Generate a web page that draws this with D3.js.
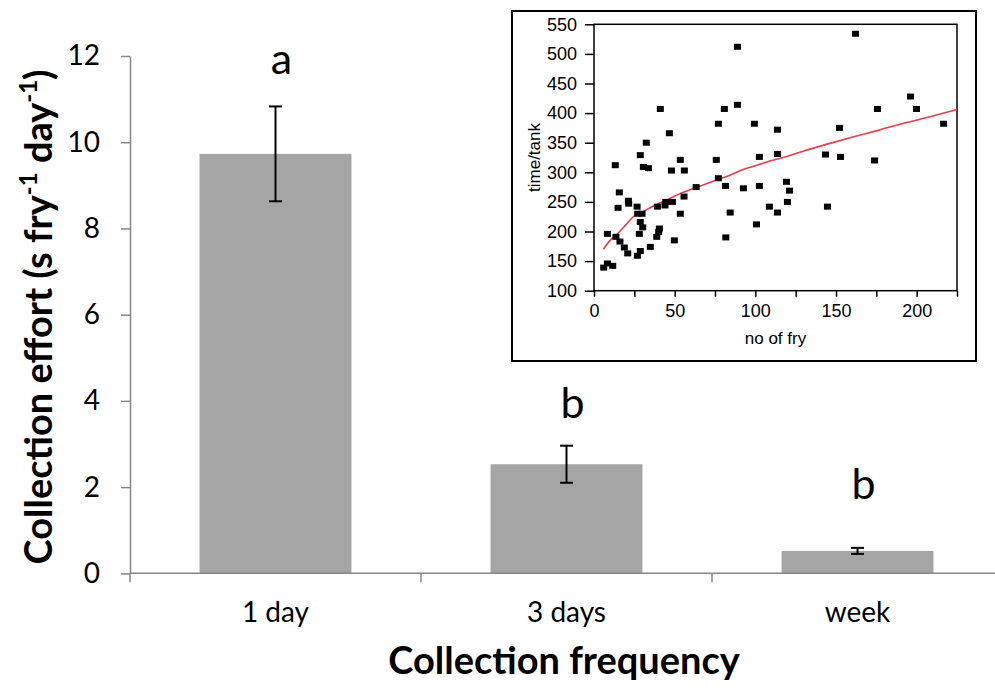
<!DOCTYPE html>
<html>
<head>
<meta charset="utf-8">
<script src="https://cdnjs.cloudflare.com/ajax/libs/d3/7.8.5/d3.min.js"></script>
<style>
  body { margin: 0; background: #fff; }
  svg { display: block; }
</style>
</head>
<body>
<svg id="chart" width="995" height="693"></svg>
<script>
// main bar chart
var categories = ["1 day", "3 days", "week"];
var effort = [9.73, 2.53, 0.52];
var effortErr = [1.1, 0.43, 0.07];
var letters = ["a", "b", "b"];
var letterLevel = [11.58, 3.6, 1.72];
var yTicks = [0, 2, 4, 6, 8, 10, 12];

// inset scatter: no of fry vs time/tank
var fryNo = [6.0, 8.3, 11.6, 8.3, 13.6, 16.1, 18.8, 20.9, 13.2, 15.7, 14.9, 21.3, 21.5, 26.7, 27.1,
  29.8, 28.7, 30.2, 28.1, 28.7, 26.9, 34.9, 28.7, 30.6, 33.7, 32.4, 41.1, 46.7, 48.0, 53.5, 56.0,
  38.9, 40.1, 40.5, 39.3, 44.0, 44.5, 48.6, 49.8, 53.5, 55.8, 63.3, 77.1, 75.8, 77.1, 80.8, 88.9,
  88.9, 81.7, 81.5, 84.4, 92.6, 99.4, 102.5, 102.5, 100.7, 108.7, 113.7, 113.7, 113.7, 119.3, 121.2,
  119.9, 144.7, 143.5, 152.8, 152.2, 162.1, 173.9, 175.7, 196.2, 199.9, 216.7];
var timeTank = [139, 146, 142, 196, 191, 183, 173, 163, 312, 266, 240, 252, 247, 242, 230,
  230, 216, 207, 196, 167, 159, 174, 329, 309, 307, 350, 407, 366, 303, 321, 303,
  191, 199, 205, 242, 244, 250, 250, 185, 230, 259, 275, 290, 321, 382, 407, 512,
  414, 190, 277, 232, 273, 382, 326, 277, 212, 242, 232, 331, 372, 284, 269,
  250, 242, 330, 326, 375, 534, 320, 407, 428, 407, 382];
var fitX = [5.8, 10, 14.9, 20, 24.4, 30, 36.8, 45, 53.3, 62, 70, 78, 85, 93.7, 100, 109, 120, 130, 145, 161, 175, 192, 210, 225];
var fitY = [170, 185, 197, 212, 225, 233, 243, 253, 264, 273, 281, 289, 296, 306, 311, 319, 327, 336, 348, 360, 370, 383, 395, 406];
var insetXTicks = [0, 25, 50, 75, 100, 125, 150, 175, 200, 225];
var insetXLabels = [0, 50, 100, 150, 200];
var insetYTicks = [100, 150, 200, 250, 300, 350, 400, 450, 500, 550];

var svg = d3.select("#chart");
var mainFont = "Lato, 'Open Sans', sans-serif";
var axisGrey = "#868686";

var x = d3.scaleBand().domain(categories).range([130, 1003]).paddingInner(0.478).paddingOuter(0.239);
var xEdge = d3.scaleBand().domain(categories).range([130, 1003]);
var y = d3.scaleLinear().domain([0, 12]).range([573.3, 56]);

// bars
svg.append("g").selectAll("rect")
  .data(categories)
  .enter().append("rect")
  .attr("x", function(d) { return x(d); })
  .attr("y", function(d, i) { return y(effort[i]); })
  .attr("width", x.bandwidth())
  .attr("height", function(d, i) { return y(0) - y(effort[i]); })
  .style("fill", "#a5a5a5");

// error bars
var err = svg.append("g").selectAll("g")
  .data(categories)
  .enter().append("g")
  .attr("transform", function(d) { return "translate(" + (x(d) + x.bandwidth() / 2) + ",0)"; })
  .style("stroke", "#000")
  .style("stroke-width", 2);
err.append("line")
  .attr("y1", function(d, i) { return y(effort[i] + effortErr[i]); })
  .attr("y2", function(d, i) { return y(effort[i] - effortErr[i]); });
err.append("line").attr("x1", -6.5).attr("x2", 6.5)
  .attr("y1", function(d, i) { return y(effort[i] + effortErr[i]); })
  .attr("y2", function(d, i) { return y(effort[i] + effortErr[i]); });
err.append("line").attr("x1", -6.5).attr("x2", 6.5)
  .attr("y1", function(d, i) { return y(effort[i] - effortErr[i]); })
  .attr("y2", function(d, i) { return y(effort[i] - effortErr[i]); });

// significance letters
svg.append("g").selectAll("text")
  .data(letters)
  .enter().append("text")
  .attr("x", function(d, i) { return x(categories[i]) + x.bandwidth() / 2 + 6; })
  .attr("y", function(d, i) { return y(letterLevel[i]); })
  .attr("text-anchor", "middle")
  .style("font-family", mainFont)
  .style("font-size", "43px")
  .text(function(d) { return d; });

// y axis
var yAxis = svg.append("g")
  .attr("transform", "translate(130,0)")
  .call(d3.axisLeft(y).tickValues(yTicks).tickSize(9).tickSizeOuter(0).tickPadding(21));
yAxis.selectAll("path, line").style("stroke", axisGrey).style("stroke-width", 1.5);
yAxis.selectAll("text").style("font-family", mainFont).style("font-size", "28px").style("fill", "#000");

// x axis
svg.append("line")
  .attr("x1", 130).attr("x2", 1003)
  .attr("y1", y(0)).attr("y2", y(0))
  .style("stroke", axisGrey).style("stroke-width", 1.5);
svg.append("g").selectAll("line")
  .data(categories.concat(["end"]))
  .enter().append("line")
  .attr("x1", function(d, i) { return i < categories.length ? xEdge(d) : xEdge.range()[1]; })
  .attr("x2", function(d, i) { return i < categories.length ? xEdge(d) : xEdge.range()[1]; })
  .attr("y1", y(0)).attr("y2", y(0) + 9)
  .style("stroke", axisGrey).style("stroke-width", 1.5);
var xAxis = svg.append("g")
  .attr("transform", "translate(0," + y(0) + ")")
  .call(d3.axisBottom(x).tickSize(0).tickPadding(29));
xAxis.select(".domain").remove();
xAxis.selectAll("text").style("font-family", mainFont).style("font-size", "28px").style("fill", "#000");

// axis titles
svg.append("text")
  .attr("x", 564).attr("y", 674)
  .attr("text-anchor", "middle")
  .style("font-family", mainFont).style("font-size", "38px").style("font-weight", "bold")
  .text("Collection frequency");

var yTitle = svg.append("text")
  .attr("transform", "translate(52,317) rotate(-90)")
  .attr("text-anchor", "middle")
  .style("font-family", mainFont).style("font-size", "38px").style("font-weight", "bold");
yTitle.append("tspan").text("Collection effort (s fry");
yTitle.append("tspan").attr("dy", -15).style("font-size", "24px").text("-1");
yTitle.append("tspan").attr("dy", 15).text(" day");
yTitle.append("tspan").attr("dy", -15).style("font-size", "24px").text("-1");
yTitle.append("tspan").attr("dy", 15).text(")");

// ---- inset ----
var insetFont = "'Liberation Sans', Arial, sans-serif";
svg.append("rect")
  .attr("x", 512).attr("y", 11).attr("width", 464).attr("height", 350)
  .style("fill", "#fff").style("stroke", "#000").style("stroke-width", 2);

var ix = d3.scaleLinear().domain([0, 225]).range([594, 957]);
var iy = d3.scaleLinear().domain([100, 550]).range([290.7, 24.3]);

var inset = svg.append("g");

// frame
inset.append("rect")
  .attr("x", ix(0)).attr("y", iy(550))
  .attr("width", ix(225) - ix(0)).attr("height", iy(100) - iy(550))
  .style("fill", "none").style("stroke", "#000").style("stroke-width", 1.5);

var iyAxis = inset.append("g")
  .attr("transform", "translate(" + ix(0) + ",0)")
  .call(d3.axisLeft(iy).tickValues(insetYTicks).tickSize(9).tickSizeOuter(0).tickPadding(8));
var ixAxis = inset.append("g")
  .attr("transform", "translate(0," + iy(100) + ")")
  .call(d3.axisBottom(ix).tickValues(insetXTicks).tickSize(6).tickSizeOuter(0).tickPadding(8)
    .tickFormat(function(d) { return insetXLabels.indexOf(d) >= 0 ? d : ""; }));
inset.selectAll(".domain").remove();
inset.selectAll(".tick line").style("stroke", "#000").style("stroke-width", 1.5);
inset.selectAll(".tick text").style("font-family", insetFont).style("font-size", "18px").style("fill", "#000");

inset.append("text")
  .attr("x", (ix(0) + ix(225)) / 2).attr("y", 344)
  .attr("text-anchor", "middle")
  .style("font-family", insetFont).style("font-size", "17px")
  .text("no of fry");
inset.append("text")
  .attr("transform", "translate(540," + (iy(100) + iy(550)) / 2 + ") rotate(-90)")
  .attr("text-anchor", "middle")
  .style("font-family", insetFont).style("font-size", "17px")
  .text("time/tank");

// fitted line
inset.append("path")
  .datum(fitX)
  .attr("d", d3.line()
    .x(function(d) { return ix(d); })
    .y(function(d, i) { return iy(fitY[i]); })
    .curve(d3.curveMonotoneX))
  .style("fill", "none").style("stroke", "#f03a4a").style("stroke-width", 1.6);

// points
inset.append("g").selectAll("rect")
  .data(fryNo)
  .enter().append("rect")
  .attr("x", function(d) { return ix(d) - 3.5; })
  .attr("y", function(d, i) { return iy(timeTank[i]) - 3; })
  .attr("width", 7).attr("height", 6)
  .style("fill", "#000");
</script>
</body>
</html>
